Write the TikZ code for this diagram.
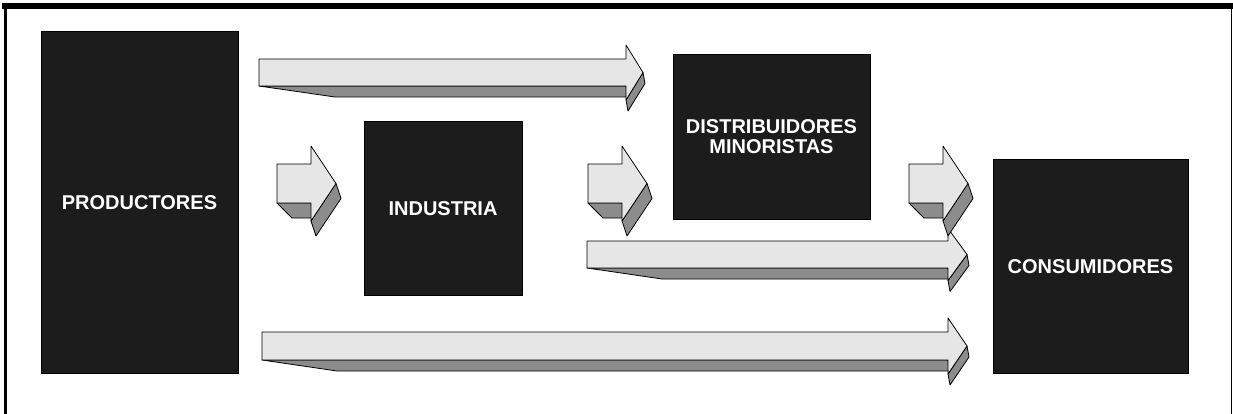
\documentclass[tikz,border=0pt]{standalone}
\usepackage{fontspec}
\setmainfont{Liberation Sans}
\definecolor{fondocaja}{HTML}{1C1C1C}
\definecolor{frente}{HTML}{E6E6E6}
\definecolor{lateral}{HTML}{8C8C8C}
\tikzset{
    caja/.style={draw=black, line width=1pt, fill=fondocaja, text=white,
        font=\bfseries\fontsize{20}{20}\selectfont, align=center, inner sep=0pt},
    frentecara/.style={draw=black, line width=0.8pt, fill=frente, line join=round},
    ladocara/.style={draw=black, line width=0.8pt, fill=lateral, line join=round},
}
% #1 cola, #2 base punta, #3 punta, #4 eje, #5 medio cuerpo, #6 media punta,
% #7 fuga izq., #8 fondo x, #9 fondo y
\newcommand\flecha[9]{%
    \filldraw[ladocara] (#1,#4+#5) -- (#1+#7,#4+#5+#9) -- (#2+#8,#4+#5+#9) -- (#2,#4+#5) -- cycle;
    \filldraw[ladocara] (#2,#4+#6) -- (#3,#4) -- (#3+#8,#4+#9) -- (#2+#8,#4+#6+#9) -- cycle;
    \filldraw[frentecara] (#1,#4-#5) -- (#2,#4-#5) -- (#2,#4-#6) -- (#3,#4)
        -- (#2,#4+#6) -- (#2,#4+#5) -- (#1,#4+#5) -- cycle;
}

\begin{document}
\begin{tikzpicture}[x=1pt, y=-1pt]
        \useasboundingbox (0,0) rectangle (1233,414);
        \draw[line width=6pt] (2,6) -- (1233,6);
        \draw[line width=3pt] (5.3,3) -- (5.3,414);
        \draw[line width=1.5pt] (1231.5,3) -- (1231.5,414);

        \node[caja, minimum width=197pt, minimum height=341pt] (productores) at (139.5,202.5) {PRODUCTORES};
        \node[caja, minimum width=158pt, minimum height=173pt] (industria) at (443,208.5) {INDUSTRIA};
        \node[caja, minimum width=197pt, minimum height=164pt] (distribuidores) at (771.5,137) {DISTRIBUIDORES\\MINORISTAS};
        \node[caja, minimum width=195pt, minimum height=213pt] (consumidores) at (1090.5,266.5) {CONSUMIDORES};

        \flecha{259}{626}{643}{72.5}{13.5}{27.5}{76}{2}{11}
        \flecha{587}{948}{967}{254.5}{13.5}{26}{75}{2}{11}
        \flecha{262}{948}{967}{346}{14}{28}{75}{2}{11}
        \foreach \x in {277,588,909} {
                \flecha{\x}{\x+34}{\x+59}{183.5}{19.5}{37.5}{15}{5}{15}
            }
    \end{tikzpicture}
\end{document}
